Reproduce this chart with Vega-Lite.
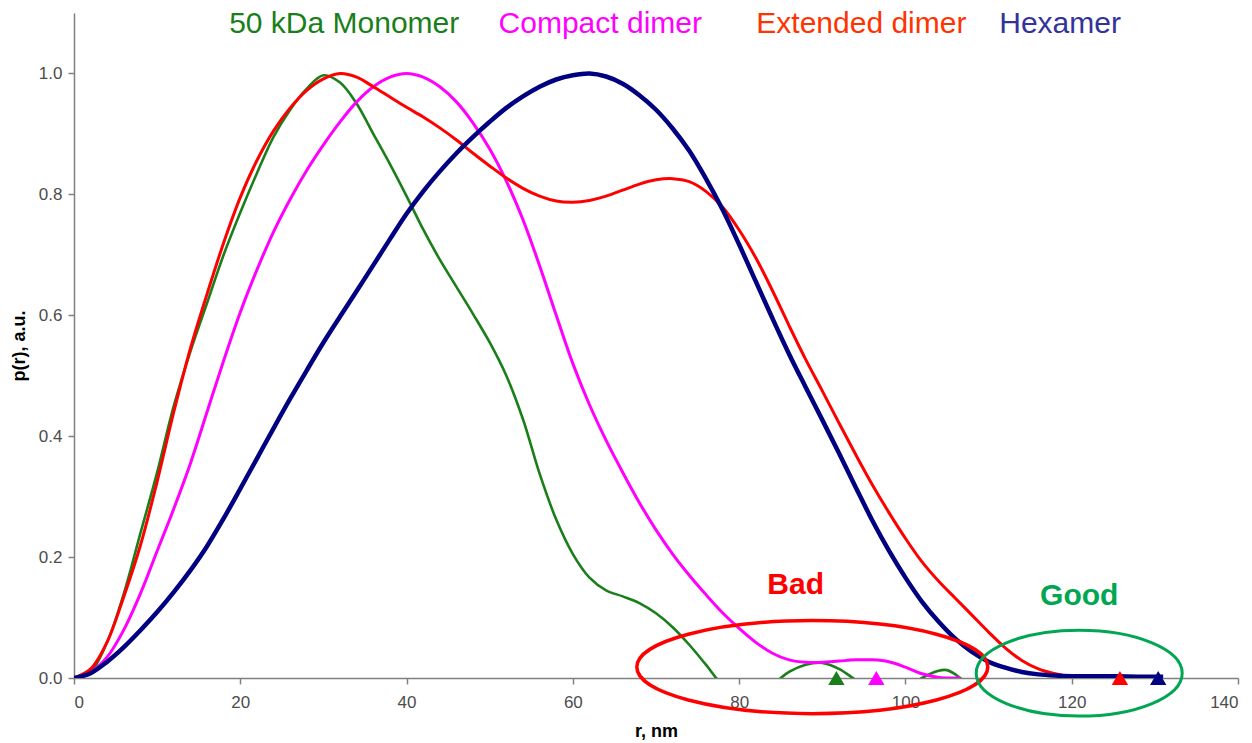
{
  "$schema": "https://vega.github.io/schema/vega-lite/v6.json",
  "width": 1164,
  "height": 665,
  "autosize": "none",
  "padding": {"left": 74, "top": 13, "right": 14, "bottom": 65},
  "background": "white",
  "config": {
    "view": {"stroke": null},
    "font": "Liberation Sans",
    "axis": {"grid": false, "domainColor": "#808080", "tickColor": "#808080", "domainWidth": 1.5, "tickWidth": 1.5, "labelFont": "Liberation Sans", "labelColor": "#4d4d4d", "labelFontSize": 17, "titleFont": "Liberation Sans", "titleFontWeight": "bold", "titleFontSize": 18, "titleColor": "#000000"}
  },
  "datasets": {
    "curves": [
      {"series": "Monomer", "r": 0, "p": 0}, {"series": "Monomer", "r": 2, "p": 0.01}, {"series": "Monomer", "r": 4, "p": 0.06}, {"series": "Monomer", "r": 6, "p": 0.14}, {"series": "Monomer", "r": 8, "p": 0.24}, {"series": "Monomer", "r": 10, "p": 0.34}, {"series": "Monomer", "r": 12, "p": 0.45}, {"series": "Monomer", "r": 14, "p": 0.54}, {"series": "Monomer", "r": 16, "p": 0.62}, {"series": "Monomer", "r": 18, "p": 0.70}, {"series": "Monomer", "r": 20, "p": 0.77}, {"series": "Monomer", "r": 22, "p": 0.835}, {"series": "Monomer", "r": 24, "p": 0.895}, {"series": "Monomer", "r": 26, "p": 0.94}, {"series": "Monomer", "r": 28, "p": 0.975}, {"series": "Monomer", "r": 30, "p": 0.997}, {"series": "Monomer", "r": 32, "p": 0.985}, {"series": "Monomer", "r": 34, "p": 0.95}, {"series": "Monomer", "r": 36, "p": 0.9}, {"series": "Monomer", "r": 38, "p": 0.85}, {"series": "Monomer", "r": 40, "p": 0.797}, {"series": "Monomer", "r": 42, "p": 0.742}, {"series": "Monomer", "r": 44, "p": 0.692}, {"series": "Monomer", "r": 46, "p": 0.647}, {"series": "Monomer", "r": 48, "p": 0.602}, {"series": "Monomer", "r": 50, "p": 0.555}, {"series": "Monomer", "r": 52, "p": 0.5}, {"series": "Monomer", "r": 54, "p": 0.428}, {"series": "Monomer", "r": 56, "p": 0.338}, {"series": "Monomer", "r": 58, "p": 0.262}, {"series": "Monomer", "r": 60, "p": 0.205}, {"series": "Monomer", "r": 62, "p": 0.166}, {"series": "Monomer", "r": 64, "p": 0.145}, {"series": "Monomer", "r": 66, "p": 0.135}, {"series": "Monomer", "r": 68, "p": 0.124}, {"series": "Monomer", "r": 70, "p": 0.107}, {"series": "Monomer", "r": 72, "p": 0.084}, {"series": "Monomer", "r": 74, "p": 0.055}, {"series": "Monomer", "r": 76, "p": 0.022}, {"series": "Monomer", "r": 78, "p": -0.012}, {"series": "Monomer", "r": 80, "p": -0.033}, {"series": "Monomer", "r": 82, "p": -0.035}, {"series": "Monomer", "r": 84, "p": -0.012}, {"series": "Monomer", "r": 86, "p": 0.01}, {"series": "Monomer", "r": 88, "p": 0.022}, {"series": "Monomer", "r": 90, "p": 0.025}, {"series": "Monomer", "r": 92, "p": 0.015}, {"series": "Monomer", "r": 94, "p": -0.003}, {"series": "Monomer", "r": 96, "p": -0.02}, {"series": "Monomer", "r": 98, "p": -0.028}, {"series": "Monomer", "r": 100, "p": -0.02}, {"series": "Monomer", "r": 102, "p": 0.0}, {"series": "Monomer", "r": 104, "p": 0.012}, {"series": "Monomer", "r": 105, "p": 0.013}, {"series": "Monomer", "r": 106, "p": 0.006}, {"series": "Monomer", "r": 107, "p": -0.005},
      {"series": "Compact", "r": 0, "p": 0}, {"series": "Compact", "r": 2, "p": 0.01}, {"series": "Compact", "r": 4, "p": 0.035}, {"series": "Compact", "r": 6, "p": 0.08}, {"series": "Compact", "r": 8, "p": 0.14}, {"series": "Compact", "r": 10, "p": 0.21}, {"series": "Compact", "r": 12, "p": 0.28}, {"series": "Compact", "r": 14, "p": 0.355}, {"series": "Compact", "r": 16, "p": 0.44}, {"series": "Compact", "r": 18, "p": 0.525}, {"series": "Compact", "r": 20, "p": 0.605}, {"series": "Compact", "r": 22, "p": 0.675}, {"series": "Compact", "r": 24, "p": 0.738}, {"series": "Compact", "r": 26, "p": 0.792}, {"series": "Compact", "r": 28, "p": 0.84}, {"series": "Compact", "r": 30, "p": 0.882}, {"series": "Compact", "r": 32, "p": 0.92}, {"series": "Compact", "r": 34, "p": 0.953}, {"series": "Compact", "r": 36, "p": 0.978}, {"series": "Compact", "r": 38, "p": 0.994}, {"series": "Compact", "r": 40, "p": 1.0}, {"series": "Compact", "r": 42, "p": 0.994}, {"series": "Compact", "r": 44, "p": 0.978}, {"series": "Compact", "r": 46, "p": 0.953}, {"series": "Compact", "r": 48, "p": 0.918}, {"series": "Compact", "r": 50, "p": 0.875}, {"series": "Compact", "r": 52, "p": 0.822}, {"series": "Compact", "r": 54, "p": 0.758}, {"series": "Compact", "r": 56, "p": 0.682}, {"series": "Compact", "r": 58, "p": 0.6}, {"series": "Compact", "r": 60, "p": 0.52}, {"series": "Compact", "r": 62, "p": 0.452}, {"series": "Compact", "r": 64, "p": 0.393}, {"series": "Compact", "r": 66, "p": 0.34}, {"series": "Compact", "r": 68, "p": 0.29}, {"series": "Compact", "r": 70, "p": 0.245}, {"series": "Compact", "r": 72, "p": 0.205}, {"series": "Compact", "r": 74, "p": 0.17}, {"series": "Compact", "r": 76, "p": 0.138}, {"series": "Compact", "r": 78, "p": 0.108}, {"series": "Compact", "r": 80, "p": 0.082}, {"series": "Compact", "r": 82, "p": 0.059}, {"series": "Compact", "r": 84, "p": 0.041}, {"series": "Compact", "r": 86, "p": 0.03}, {"series": "Compact", "r": 88, "p": 0.026}, {"series": "Compact", "r": 90, "p": 0.026}, {"series": "Compact", "r": 92, "p": 0.028}, {"series": "Compact", "r": 94, "p": 0.03}, {"series": "Compact", "r": 96, "p": 0.03}, {"series": "Compact", "r": 98, "p": 0.027}, {"series": "Compact", "r": 100, "p": 0.018}, {"series": "Compact", "r": 102, "p": 0.007}, {"series": "Compact", "r": 104, "p": 0.001}, {"series": "Compact", "r": 106.6, "p": 0.0},
      {"series": "Extended", "r": 0, "p": 0}, {"series": "Extended", "r": 2, "p": 0.015}, {"series": "Extended", "r": 4, "p": 0.06}, {"series": "Extended", "r": 6, "p": 0.135}, {"series": "Extended", "r": 8, "p": 0.22}, {"series": "Extended", "r": 10, "p": 0.325}, {"series": "Extended", "r": 12, "p": 0.44}, {"series": "Extended", "r": 14, "p": 0.545}, {"series": "Extended", "r": 16, "p": 0.635}, {"series": "Extended", "r": 18, "p": 0.72}, {"series": "Extended", "r": 20, "p": 0.795}, {"series": "Extended", "r": 22, "p": 0.856}, {"series": "Extended", "r": 24, "p": 0.905}, {"series": "Extended", "r": 26, "p": 0.943}, {"series": "Extended", "r": 28, "p": 0.972}, {"series": "Extended", "r": 30, "p": 0.991}, {"series": "Extended", "r": 32, "p": 1.0}, {"series": "Extended", "r": 34, "p": 0.994}, {"series": "Extended", "r": 36, "p": 0.978}, {"series": "Extended", "r": 38, "p": 0.961}, {"series": "Extended", "r": 40, "p": 0.944}, {"series": "Extended", "r": 42, "p": 0.928}, {"series": "Extended", "r": 44, "p": 0.91}, {"series": "Extended", "r": 46, "p": 0.89}, {"series": "Extended", "r": 48, "p": 0.868}, {"series": "Extended", "r": 50, "p": 0.847}, {"series": "Extended", "r": 52, "p": 0.827}, {"series": "Extended", "r": 54, "p": 0.81}, {"series": "Extended", "r": 56, "p": 0.797}, {"series": "Extended", "r": 58, "p": 0.789}, {"series": "Extended", "r": 60, "p": 0.787}, {"series": "Extended", "r": 62, "p": 0.79}, {"series": "Extended", "r": 64, "p": 0.797}, {"series": "Extended", "r": 66, "p": 0.807}, {"series": "Extended", "r": 68, "p": 0.817}, {"series": "Extended", "r": 70, "p": 0.824}, {"series": "Extended", "r": 72, "p": 0.826}, {"series": "Extended", "r": 74, "p": 0.821}, {"series": "Extended", "r": 76, "p": 0.805}, {"series": "Extended", "r": 78, "p": 0.779}, {"series": "Extended", "r": 80, "p": 0.741}, {"series": "Extended", "r": 82, "p": 0.695}, {"series": "Extended", "r": 84, "p": 0.641}, {"series": "Extended", "r": 86, "p": 0.583}, {"series": "Extended", "r": 88, "p": 0.527}, {"series": "Extended", "r": 90, "p": 0.475}, {"series": "Extended", "r": 92, "p": 0.422}, {"series": "Extended", "r": 94, "p": 0.37}, {"series": "Extended", "r": 96, "p": 0.32}, {"series": "Extended", "r": 98, "p": 0.274}, {"series": "Extended", "r": 100, "p": 0.231}, {"series": "Extended", "r": 102, "p": 0.192}, {"series": "Extended", "r": 104, "p": 0.16}, {"series": "Extended", "r": 106, "p": 0.132}, {"series": "Extended", "r": 108, "p": 0.104}, {"series": "Extended", "r": 110, "p": 0.076}, {"series": "Extended", "r": 112, "p": 0.05}, {"series": "Extended", "r": 114, "p": 0.029}, {"series": "Extended", "r": 116, "p": 0.015}, {"series": "Extended", "r": 118, "p": 0.007}, {"series": "Extended", "r": 120, "p": 0.002}, {"series": "Extended", "r": 121, "p": 0.0},
      {"series": "Hexamer", "r": 0, "p": 0}, {"series": "Hexamer", "r": 2, "p": 0.008}, {"series": "Hexamer", "r": 4, "p": 0.027}, {"series": "Hexamer", "r": 6, "p": 0.051}, {"series": "Hexamer", "r": 8, "p": 0.079}, {"series": "Hexamer", "r": 10, "p": 0.109}, {"series": "Hexamer", "r": 12, "p": 0.142}, {"series": "Hexamer", "r": 14, "p": 0.178}, {"series": "Hexamer", "r": 16, "p": 0.218}, {"series": "Hexamer", "r": 18, "p": 0.264}, {"series": "Hexamer", "r": 20, "p": 0.313}, {"series": "Hexamer", "r": 22, "p": 0.363}, {"series": "Hexamer", "r": 24, "p": 0.413}, {"series": "Hexamer", "r": 26, "p": 0.462}, {"series": "Hexamer", "r": 28, "p": 0.509}, {"series": "Hexamer", "r": 30, "p": 0.555}, {"series": "Hexamer", "r": 32, "p": 0.598}, {"series": "Hexamer", "r": 34, "p": 0.64}, {"series": "Hexamer", "r": 36, "p": 0.683}, {"series": "Hexamer", "r": 38, "p": 0.726}, {"series": "Hexamer", "r": 40, "p": 0.768}, {"series": "Hexamer", "r": 42, "p": 0.805}, {"series": "Hexamer", "r": 44, "p": 0.838}, {"series": "Hexamer", "r": 46, "p": 0.868}, {"series": "Hexamer", "r": 48, "p": 0.895}, {"series": "Hexamer", "r": 50, "p": 0.92}, {"series": "Hexamer", "r": 52, "p": 0.943}, {"series": "Hexamer", "r": 54, "p": 0.962}, {"series": "Hexamer", "r": 56, "p": 0.978}, {"series": "Hexamer", "r": 58, "p": 0.99}, {"series": "Hexamer", "r": 60, "p": 0.997}, {"series": "Hexamer", "r": 62, "p": 1.0}, {"series": "Hexamer", "r": 64, "p": 0.995}, {"series": "Hexamer", "r": 66, "p": 0.983}, {"series": "Hexamer", "r": 68, "p": 0.964}, {"series": "Hexamer", "r": 70, "p": 0.94}, {"series": "Hexamer", "r": 72, "p": 0.909}, {"series": "Hexamer", "r": 74, "p": 0.872}, {"series": "Hexamer", "r": 76, "p": 0.826}, {"series": "Hexamer", "r": 78, "p": 0.775}, {"series": "Hexamer", "r": 80, "p": 0.717}, {"series": "Hexamer", "r": 82, "p": 0.656}, {"series": "Hexamer", "r": 84, "p": 0.595}, {"series": "Hexamer", "r": 86, "p": 0.536}, {"series": "Hexamer", "r": 88, "p": 0.481}, {"series": "Hexamer", "r": 90, "p": 0.427}, {"series": "Hexamer", "r": 92, "p": 0.372}, {"series": "Hexamer", "r": 94, "p": 0.316}, {"series": "Hexamer", "r": 96, "p": 0.261}, {"series": "Hexamer", "r": 98, "p": 0.211}, {"series": "Hexamer", "r": 100, "p": 0.166}, {"series": "Hexamer", "r": 102, "p": 0.126}, {"series": "Hexamer", "r": 104, "p": 0.093}, {"series": "Hexamer", "r": 106, "p": 0.065}, {"series": "Hexamer", "r": 108, "p": 0.043}, {"series": "Hexamer", "r": 110, "p": 0.027}, {"series": "Hexamer", "r": 112, "p": 0.017}, {"series": "Hexamer", "r": 114, "p": 0.01}, {"series": "Hexamer", "r": 116, "p": 0.006}, {"series": "Hexamer", "r": 118, "p": 0.004}, {"series": "Hexamer", "r": 120, "p": 0.003}, {"series": "Hexamer", "r": 124, "p": 0.003}, {"series": "Hexamer", "r": 128, "p": 0.002}, {"series": "Hexamer", "r": 131, "p": 0.002}
    ],
    "dmax": [
      {"series": "Monomer", "r": 91.7, "p": 0},
      {"series": "Compact", "r": 96.5, "p": 0},
      {"series": "Extended", "r": 125.8, "p": 0},
      {"series": "Hexamer", "r": 130.4, "p": 0}
    ],
    "titles": [
      {"label": "50 kDa Monomer", "r": 32.5, "p": 1.082},
      {"label": "Compact dimer", "r": 63.3, "p": 1.082},
      {"label": "Extended dimer", "r": 94.7, "p": 1.082},
      {"label": "Hexamer", "r": 118.6, "p": 1.082}
    ],
    "verdicts": [
      {"label": "Bad", "r": 86.8, "p": 0.154},
      {"label": "Good", "r": 120.9, "p": 0.136}
    ],
    "bad": [{"zone": "Bad", "r": 88.8, "p": 0.018}],
    "good": [{"zone": "Good", "r": 120.9, "p": 0.008}]
  },
  "layer": [
    {
      "data": {"name": "curves"},
      "transform": [{"filter": "datum.series === 'Monomer'"}],
      "mark": {"type": "line", "clip": true, "interpolate": "catmull-rom", "strokeWidth": 2.6},
      "encoding": {
        "x": {"field": "r", "type": "quantitative", "scale": {"domain": [0, 140], "nice": false}, "axis": {"values": [0, 20, 40, 60, 80, 100, 120, 140], "title": "r, nm", "tickSize": 6, "labelPadding": 10, "titlePadding": 12, "format": "d"}},
        "y": {"field": "p", "type": "quantitative", "scale": {"domain": [0, 1.1], "nice": false}, "axis": {"values": [0, 0.2, 0.4, 0.6, 0.8, 1.0], "format": ".1f", "title": "p(r), a.u.", "tickSize": 6, "labelPadding": 6, "titlePadding": 10}},
        "color": {"field": "series", "type": "nominal", "scale": {"domain": ["Monomer", "Compact", "Extended", "Hexamer"], "range": ["#1a7f1a", "#ff00ff", "#ff0000", "#000080"]}, "legend": null},
        "order": {"field": "r", "type": "quantitative"}
      }
    },
    {
      "data": {"name": "curves"},
      "transform": [{"filter": "datum.series === 'Compact'"}],
      "mark": {"type": "line", "clip": true, "interpolate": "catmull-rom", "strokeWidth": 3},
      "encoding": {
        "x": {"field": "r", "type": "quantitative"},
        "y": {"field": "p", "type": "quantitative"},
        "color": {"field": "series", "type": "nominal", "legend": null},
        "order": {"field": "r", "type": "quantitative"}
      }
    },
    {
      "data": {"name": "curves"},
      "transform": [{"filter": "datum.series === 'Extended'"}],
      "mark": {"type": "line", "clip": true, "interpolate": "catmull-rom", "strokeWidth": 3},
      "encoding": {
        "x": {"field": "r", "type": "quantitative"},
        "y": {"field": "p", "type": "quantitative"},
        "color": {"field": "series", "type": "nominal", "legend": null},
        "order": {"field": "r", "type": "quantitative"}
      }
    },
    {
      "data": {"name": "curves"},
      "transform": [{"filter": "datum.series === 'Hexamer'"}],
      "mark": {"type": "line", "clip": true, "interpolate": "catmull-rom", "strokeWidth": 4.5},
      "encoding": {
        "x": {"field": "r", "type": "quantitative"},
        "y": {"field": "p", "type": "quantitative"},
        "color": {"field": "series", "type": "nominal", "legend": null},
        "order": {"field": "r", "type": "quantitative"}
      }
    },
    {
      "data": {"name": "dmax"},
      "mark": {"type": "point", "shape": "triangle-up", "filled": true, "opacity": 1, "size": 270, "clip": false},
      "encoding": {
        "x": {"field": "r", "type": "quantitative"},
        "y": {"field": "p", "type": "quantitative"},
        "color": {"field": "series", "type": "nominal", "legend": null}
      }
    },
    {
      "data": {"name": "bad"},
      "mark": {"type": "point", "filled": false, "opacity": 1, "stroke": "#ff0000", "strokeWidth": 3.5, "size": 123201, "shape": "M -1 0 A 1 0.265 0 1 1 1 0 A 1 0.265 0 1 1 -1 0 Z", "clip": false},
      "encoding": {
        "x": {"field": "r", "type": "quantitative"},
        "y": {"field": "p", "type": "quantitative"}
      }
    },
    {
      "data": {"name": "good"},
      "mark": {"type": "point", "filled": false, "opacity": 1, "stroke": "#00a651", "strokeWidth": 3, "size": 42436, "shape": "M -1 0 A 1 0.417 0 1 1 1 0 A 1 0.417 0 1 1 -1 0 Z", "clip": false},
      "encoding": {
        "x": {"field": "r", "type": "quantitative"},
        "y": {"field": "p", "type": "quantitative"}
      }
    },
    {
      "data": {"name": "titles"},
      "mark": {"type": "text", "fontSize": 30, "font": "Liberation Sans", "align": "center", "baseline": "middle", "clip": false},
      "encoding": {
        "x": {"field": "r", "type": "quantitative"},
        "y": {"field": "p", "type": "quantitative"},
        "text": {"field": "label"},
        "fill": {"field": "label", "type": "nominal", "scale": {"domain": ["50 kDa Monomer", "Compact dimer", "Extended dimer", "Hexamer", "Bad", "Good"], "range": ["#1a7f1a", "#ff00ff", "#ff3300", "#333399", "#ff0000", "#00a651"]}, "legend": null}
      }
    },
    {
      "data": {"name": "verdicts"},
      "mark": {"type": "text", "fontSize": 30, "fontWeight": "bold", "font": "Liberation Sans", "align": "center", "baseline": "middle", "clip": false},
      "encoding": {
        "x": {"field": "r", "type": "quantitative"},
        "y": {"field": "p", "type": "quantitative"},
        "text": {"field": "label"},
        "fill": {"field": "label", "type": "nominal", "legend": null}
      }
    }
  ]
}
